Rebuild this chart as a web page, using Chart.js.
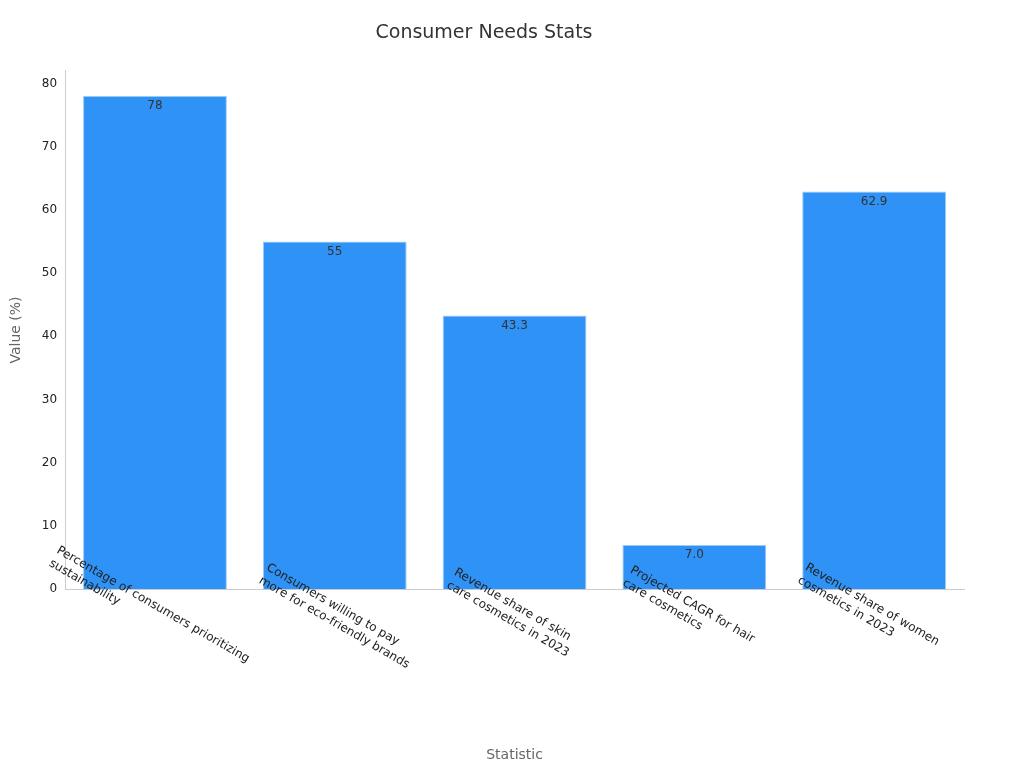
<!DOCTYPE html>
<html>
<head>
<meta charset="utf-8">
<script src="https://cdn.jsdelivr.net/npm/chart.js@4"></script>
<style>
  body { margin: 0; background: #fff; }
  #wrap { width: 1024px; height: 768px; }
</style>
</head>
<body>
<div id="wrap"><canvas id="chart"></canvas></div>
<script>
const categories = [
    ['Percentage of consumers prioritizing', 'sustainability'],
    ['Consumers willing to pay', 'more for eco-friendly brands'],
    ['Revenue share of skin', 'care cosmetics in 2023'],
    ['Projected CAGR for hair', 'care cosmetics'],
    ['Revenue share of women', 'cosmetics in 2023']
];
const values = [78, 55, 43.3, 7.0, 62.9];
const valueLabels = ['78', '55', '43.3', '7.0', '62.9'];
const yTicks = [0, 10, 20, 30, 40, 50, 60, 70, 80];

const FONT = 'DejaVu Sans';

// value text just inside the top of each bar
const barLabels = {
    id: 'barLabels',
    afterDatasetsDraw(chart) {
        const ctx = chart.ctx;
        const meta = chart.getDatasetMeta(0);
        ctx.save();
        ctx.font = '12px ' + FONT;
        ctx.fillStyle = '#333';
        ctx.textAlign = 'center';
        ctx.textBaseline = 'top';
        meta.data.forEach((bar, i) => {
            ctx.fillText(valueLabels[i], bar.x, bar.y + 4);
        });
        ctx.restore();
    }
};

// category labels rotated clockwise, starting at the tick
const xLabels = {
    id: 'xLabels',
    afterDraw(chart) {
        const ctx = chart.ctx;
        const xs = chart.scales.x;
        const top = chart.chartArea.bottom;
        ctx.save();
        ctx.font = '12px ' + FONT;
        ctx.fillStyle = '#222';
        ctx.textAlign = 'center';
        ctx.textBaseline = 'top';
        categories.forEach((lines, i) => {
            const x = xs.getPixelForTick(i);
            ctx.save();
            ctx.translate(x, top + 12);
            ctx.rotate(Math.PI / 6);
            ctx.textAlign = 'left';
            lines.forEach((line, j) => {
                const w = ctx.measureText(lines[0]).width;
                // right-align lines to keep the block together like the reference
                const lw = ctx.measureText(line).width;
                ctx.fillText(line, -lw / 2 + (j === 0 ? 0 : 0) - w / 2 + lw / 2, j * 15 - 2);
            });
            ctx.restore();
        });
        ctx.restore();
    }
};

new Chart(document.getElementById('chart'), {
    type: 'bar',
    data: {
        labels: categories,
        datasets: [{
            data: values,
            backgroundColor: '#2f92f6',
            borderColor: '#9ccbf8',
            borderWidth: 1,
            barPercentage: 0.8,
            categoryPercentage: 1
        }]
    },
    options: {
        responsive: true,
        maintainAspectRatio: false,
        animation: false,
        layout: { padding: { left: 4, right: 60, top: 10, bottom: 4 } },
        plugins: {
            legend: { display: false },
            tooltip: { enabled: false },
            title: {
                display: true,
                text: 'Consumer Needs Stats',
                color: '#333',
                font: { family: FONT, size: 19, weight: 'normal' },
                padding: { top: 12, bottom: 26 }
            }
        },
        scales: {
            x: {
                grid: { display: false, drawTicks: true },
                border: { color: '#ccc' },
                ticks: { display: false },
                title: {
                    display: true,
                    text: 'Statistic',
                    color: '#666',
                    font: { family: FONT, size: 14 },
                    padding: { top: 150, bottom: 0 }
                }
            },
            y: {
                min: 0,
                max: 82,
                afterBuildTicks: axis => { axis.ticks = yTicks.map(v => ({ value: v })); },
                grid: { display: false, drawTicks: true, tickLength: 5, tickColor: '#999' },
                border: { color: '#ccc' },
                ticks: { color: '#222', font: { family: FONT, size: 12 } },
                title: {
                    display: true,
                    text: 'Value (%)',
                    color: '#666',
                    font: { family: FONT, size: 14 },
                    padding: { bottom: 14 }
                }
            }
        }
    },
    plugins: [barLabels, xLabels]
});
</script>
</body>
</html>
